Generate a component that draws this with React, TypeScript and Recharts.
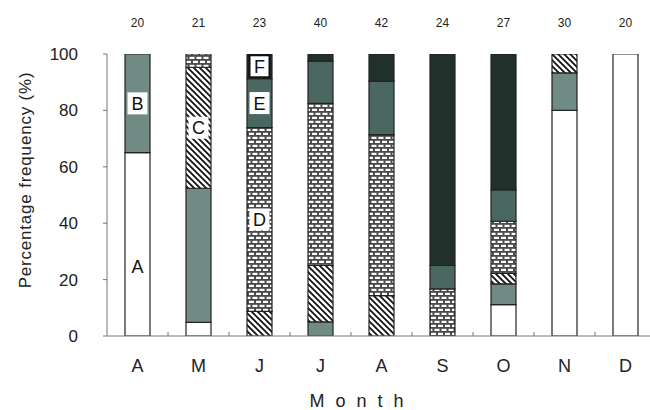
import { BarChart, Bar, XAxis, YAxis, LabelList } from 'recharts';

// Month of sampling, number of specimens, and percentage of each type A–F
const months = ['A', 'M', 'J', 'J', 'A', 'S', 'O', 'N', 'D'];
const counts = [20, 21, 23, 40, 42, 24, 27, 30, 20];
const typeA = [65, 4.8, 0, 0, 0, 0, 11.1, 80, 100];
const typeB = [35, 47.6, 0, 5, 0, 0, 7.4, 13.3, 0];
const typeC = [0, 42.9, 8.7, 20, 14.3, 0, 3.7, 6.7, 0];
const typeD = [0, 4.8, 65.2, 57.5, 57.1, 16.7, 18.5, 0, 0];
const typeE = [0, 0, 17.4, 15, 19.0, 8.3, 11.1, 0, 0];
const typeF = [0, 0, 8.7, 2.5, 9.5, 75, 48.1, 0, 0];
const yTicks = [0, 20, 40, 60, 80, 100];

const data = months.map((m, i) => ({
  idx: i,
  month: m,
  n: counts[i],
  a: typeA[i],
  b: typeB[i],
  c: typeC[i],
  d: typeD[i],
  e: typeE[i],
  f: typeF[i],
}));

// Which segment carries the letter key
const segmentKeys: Record<string, { index: number; text: string }> = {
  a: { index: 0, text: 'A' },
  b: { index: 0, text: 'B' },
  c: { index: 1, text: 'C' },
  d: { index: 2, text: 'D' },
  e: { index: 2, text: 'E' },
  f: { index: 2, text: 'F' },
};

const series = [
  { key: 'a', fill: '#ffffff' },
  { key: 'b', fill: '#6f8b83' },
  { key: 'c', fill: 'url(#hatch)' },
  { key: 'd', fill: 'url(#brick)' },
  { key: 'e', fill: '#4b6761' },
  { key: 'f', fill: '#22302c' },
];

const FONT = '"Liberation Sans", Arial, sans-serif';
const TEXT = '#222';
const AXIS = '#777';
const PLOT_WIDTH = 549;
const halfBand = PLOT_WIDTH / months.length / 2;

function Patterns() {
  return (
    <svg width={0} height={0} style={{ position: 'absolute' }}>
      <defs>
        <pattern id="hatch" patternUnits="userSpaceOnUse" width={6} height={6}>
          <rect width={6} height={6} fill="#fff" />
          <path d="M-1,-1 L7,7 M-1,5 L1,7 M5,-1 L7,1" stroke="#111" strokeWidth={1.8} />
        </pattern>
        <pattern id="brick" patternUnits="userSpaceOnUse" width={7} height={8}>
          <rect width={7} height={8} fill="#4a4a4a" />
          <rect x={0.5} y={0.8} width={5} height={2.2} fill="#fff" />
          <rect x={4} y={4.8} width={5} height={2.2} fill="#fff" />
          <rect x={-3} y={4.8} width={5} height={2.2} fill="#fff" />
        </pattern>
      </defs>
    </svg>
  );
}

function MonthTick({ x, y, payload }: any) {
  return (
    <g>
      <line x1={x + halfBand} y1={y} x2={x + halfBand} y2={y - 4} stroke={AXIS} />
      <text x={x} y={y + 30} dy="0.355em" textAnchor="middle" fontSize={18} fill={TEXT} fontFamily={FONT}>
        {payload.value}
      </text>
    </g>
  );
}

function CountTick({ x, y, payload }: any) {
  return (
    <text x={x} y={y - 31} dy="0.355em" textAnchor="middle" fontSize={12} fill={TEXT}
      fontFamily='"Liberation Sans Narrow", "Liberation Sans", Arial, sans-serif'>
      {payload.value}
    </text>
  );
}

function makeSegmentLabel(key: string) {
  const cfg = segmentKeys[key];
  return (props: any) => {
    const { x, y, width, height, value } = props;
    if (Number(value) !== cfg.index || !height) return null;
    const cx = Number(x) + Number(width) / 2;
    // the A key sits a little below the middle of its segment
    const cy = Number(y) + Number(height) / 2 + (key === 'a' ? 22 : 0);
    const outlined = key === 'f';
    return (
      <g>
        <rect x={cx - 10} y={cy - 11} width={20} height={22} fill="#fff"
          stroke={outlined ? '#111' : 'none'} strokeWidth={outlined ? 2 : 0} />
        <text x={cx} y={cy} dy="0.36em" textAnchor="middle" fontSize={18} fill="#111" fontFamily={FONT}>
          {cfg.text}
        </text>
      </g>
    );
  };
}

export default function App() {
  return (
    <div style={{ position: 'absolute', left: 0, top: 0, background: '#fff' }}>
      <Patterns />
      <BarChart
        width={660}
        height={410}
        data={data}
        margin={{ top: 24, right: 4, bottom: 34, left: 37 }}
        barSize={25}
      >
        <XAxis
          xAxisId="top"
          orientation="top"
          dataKey="n"
          height={30}
          axisLine={false}
          tickLine={false}
          tickSize={0}
          tickMargin={0}
          tick={<CountTick />}
        />
        <XAxis
          xAxisId="main"
          dataKey="month"
          height={40}
          axisLine={{ stroke: AXIS }}
          tickLine={false}
          tickSize={0}
          tickMargin={0}
          tick={<MonthTick />}
          label={{
            content: ({ viewBox }: any) => (
              <text x={362} y={viewBox.y + 65} dy="0.355em" textAnchor="middle" fontSize={18}
                letterSpacing={11} fill={TEXT} fontFamily={FONT}>
                Month
              </text>
            ),
          }}
        />
        <YAxis
          width={70}
          domain={[0, 100]}
          ticks={yTicks}
          allowDataOverflow
          axisLine={{ stroke: AXIS }}
          tickLine={{ stroke: AXIS }}
          tickSize={4}
          tickMargin={25}
          tick={{ fontSize: 17, fill: TEXT, fontFamily: FONT }}
          label={{
            content: ({ viewBox }: any) => {
              const cy = viewBox.y + viewBox.height / 2 - 15;
              return (
                <text x={25} y={cy} dy="0.355em" textAnchor="middle" fontSize={17} letterSpacing={0.8}
                  fill={TEXT} fontFamily={FONT} transform={`rotate(-90, 25, ${cy})`}>
                  Percentage frequency (%)
                </text>
              );
            },
          }}
        />
        {series.map((s) => (
          <Bar
            key={s.key}
            xAxisId="main"
            dataKey={s.key}
            stackId="s"
            fill={s.fill}
            stroke="#222"
            strokeWidth={1.2}
            isAnimationActive={false}
          >
            <LabelList dataKey="idx" content={makeSegmentLabel(s.key)} />
          </Bar>
        ))}
      </BarChart>
    </div>
  );
}
